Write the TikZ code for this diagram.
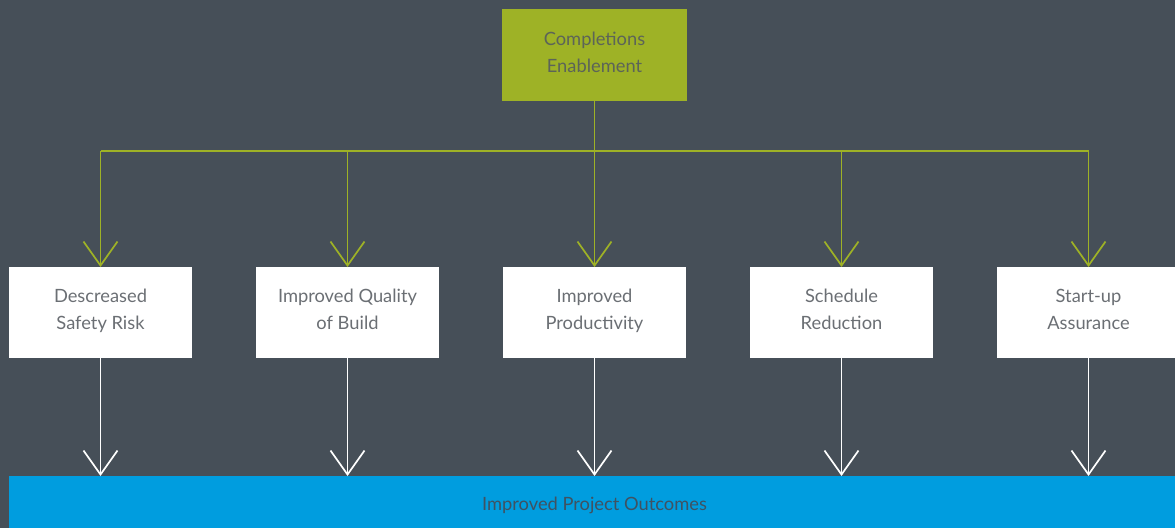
\documentclass[tikz,border=0pt]{standalone}
\usepackage{fontspec}
\setmainfont{Lato}
\usetikzlibrary{positioning,arrows.meta}

\definecolor{slate}{HTML}{464F58}
\definecolor{olive}{HTML}{9EB226}
\definecolor{oliveText}{HTML}{5C6458}
\definecolor{boxText}{HTML}{6B6F74}
\definecolor{barBlue}{HTML}{009DDF}
\definecolor{barText}{HTML}{3F5262}

\begin{document}
\begin{tikzpicture}[
		x=1pt, y=-1pt,
		every node/.style={inner sep=0pt, outer sep=0pt, align=center,
			text height=40pt, text depth=6pt,
			font=\fontsize{18.3}{27}\selectfont},
		topbox/.style={fill=olive, text=oliveText, minimum width=185pt, minimum height=92pt},
		goalbox/.style={fill=white, text=boxText, minimum width=183pt, minimum height=91pt},
		outbar/.style={fill=barBlue, text=barText, minimum width=1171pt, minimum height=52pt,
			text height=16pt, text depth=0pt},
		vee/.style={-{Straight Barb[length=24pt,width=34pt,line width=1.7pt]}},
		bus/.style={draw=olive, line width=1.7pt},
		feed/.style={draw=olive, line width=1.7pt, vee},
		flow/.style={draw=white, line width=1.7pt, vee}
		]
		\useasboundingbox[fill=slate] (0,0) rectangle (1175,528);

		\node[topbox] (top) at (594.5,55) {Completions\\Enablement};

		\node[goalbox] (dsr) at (100.5,312.5) {Descreased\\Safety Risk};
		\node[goalbox, right=64pt of dsr] (iqb) {Improved Quality\\of Build};
		\node[goalbox, right=64pt of iqb] (ipr) {Improved\\Productivity};
		\node[goalbox, right=64pt of ipr] (sre) {Schedule\\Reduction};
		\node[goalbox, right=64pt of sre] (sua) {Start-up\\Assurance};

		\node[outbar] (ipo) at (594.5,502) {Improved Project Outcomes};

		% green feeds from the top box
		\coordinate (split) at ([yshift=-50pt]top.south);
		\draw[bus] (dsr.north |- split) -- (sua.north |- split);
		\draw[feed] (top.south) -- (ipr.north);
		\draw[feed] (dsr.north |- split) -- (dsr.north);
		\draw[feed] (iqb.north |- split) -- (iqb.north);
		\draw[feed] (sre.north |- split) -- (sre.north);
		\draw[feed] (sua.north |- split) -- (sua.north);

		% white flows into the outcome bar
		\draw[flow] (dsr.south) -- (dsr.south |- ipo.north);
		\draw[flow] (iqb.south) -- (iqb.south |- ipo.north);
		\draw[flow] (ipr.south) -- (ipr.south |- ipo.north);
		\draw[flow] (sre.south) -- (sre.south |- ipo.north);
		\draw[flow] (sua.south) -- (sua.south |- ipo.north);
\end{tikzpicture}
\end{document}
